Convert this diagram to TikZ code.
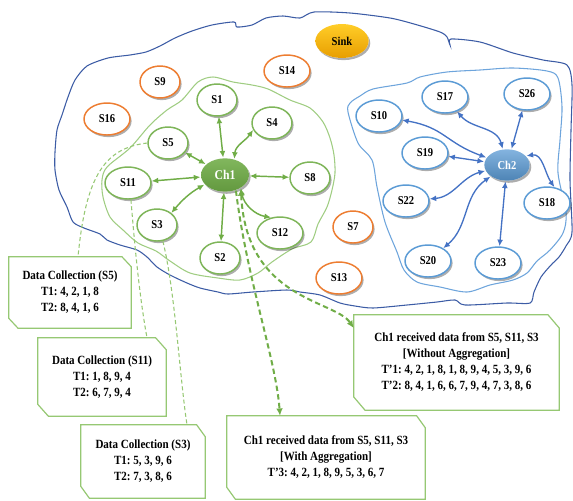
\documentclass[tikz,border=0pt]{standalone}
\usepackage{fontspec}
\setmainfont{Liberation Serif}[FakeStretch=0.88]
\usetikzlibrary{arrows.meta,shapes.geometric,shadows}

\definecolor{gnode}{RGB}{112,173,71}
\definecolor{gline}{RGB}{160,205,130}
\definecolor{gbox}{RGB}{150,200,115}
\definecolor{onode}{RGB}{237,125,49}
\definecolor{bnode}{RGB}{91,155,213}
\definecolor{bline}{RGB}{68,114,196}
\definecolor{bzone}{RGB}{110,165,220}
\definecolor{outerc}{RGB}{60,92,165}

\pgfdeclarelayer{back}
\pgfdeclarelayer{frames}
\pgfsetlayers{back,frames,main}

% chamfered frame (top-right and bottom-left corners cut) around a text node
\newcommand\snipframe[3]{%
  \begin{pgfonlayer}{frames}
  \draw[boxline] (#1.north west) -- ([xshift=-#2]#1.north east)
    -- ([yshift=-#3]#1.north east) -- (#1.south east)
    -- ([xshift=#2]#1.south west) -- ([yshift=#3]#1.south west) -- cycle;
  \end{pgfonlayer}}

% centred lines of a data box
\newenvironment{boxlines}{\begin{tabular}{@{}c@{}}}{\end{tabular}}

\tikzset{
  every node/.style={inner sep=0pt},
  ell/.style={ellipse, draw, line width=1.1pt, fill=white,
    minimum width=30pt, minimum height=24pt,
    font=\bfseries\fontsize{9}{10}\selectfont,
    drop shadow={shadow xshift=1.2pt, shadow yshift=-1.6pt, opacity=0.32, fill=black}},
  wideell/.style={minimum width=34.5pt},
  grnode/.style={ell, draw=gnode!90},
  ornode/.style={ell, draw=onode},
  blnode/.style={ell, draw=bnode, wideell},
  headnode/.style={ell, draw=none, text=white, minimum width=36pt, minimum height=25pt},
  outerline/.style={draw=outerc, line width=0.8pt},
  greenzone/.style={draw=gline, line width=0.8pt},
  bluezone/.style={draw=bzone, line width=0.8pt},
  >={Latex[length=5pt,width=4.4pt]},
  garr/.style={draw=gnode, line width=1.1pt, <->},
  barr/.style={draw=bline, line width=1pt, <->},
  tdash/.style={draw=gbox, line width=0.8pt, dash pattern=on 3pt off 2pt},
  kdash/.style={draw=gnode, line width=1.5pt, dash pattern=on 4pt off 2.5pt,
    >={Latex[length=5.5pt,width=5pt]}},
  boxline/.style={draw=gbox, line width=0.9pt, fill=white},
  textbox/.style={font=\frenchspacing\bfseries\fontsize{9.4}{12}\selectfont}
}

\begin{document}
\begin{tikzpicture}[x=0.75pt,y=-0.75pt]
\useasboundingbox (0,0) rectangle (573,500);

% ---------- field boundary and the two cluster zones ----------
\begin{pgfonlayer}{back}
\draw[outerline] plot[smooth cycle, tension=0.45] coordinates {
  (55,152) (57,130) (62,115) (68,97) (75,80) (87,66) (108,58) (130,55)
  (146,52) (160,46) (175,38) (192,31) (212,25) (234,22) (237,27) (252,25)
  (266,18) (283,16) (300,18) (314,12) (350,13) (390,18) (414,24) (440,32)
  (447,37) (450,45) (451,39) (480,42) (513,53) (543,60) (567,65) (572,85)
  (571,130) (570,180) (572,232) (566,246) (559,257) (551,265) (541,277)
  (534,292) (530,303) (507,303) (465,305) (455,300) (437,302) (407,305)
  (373,308) (355,306) (340,303) (320,295) (300,292) (287,290) (253,292)
  (228,294) (218,292) (200,288) (187,283) (170,275) (157,267) (147,257)
  (137,250) (120,245) (107,240) (100,234) (84,228) (73,222) (67,207)
  (59,190) (55,170)};
\draw[greenzone] plot[smooth cycle, tension=0.5] coordinates {
  (213,77) (233,82) (252,85) (268,89) (290,100) (310,108) (323,122)
  (330,138) (334,155) (335,173) (332,190) (327,207) (318,224) (311,242)
  (292,249) (272,262) (258,273) (240,280) (218,278) (190,273) (170,261)
  (156,251) (138,243) (123,230) (110,217) (103,197) (102,180) (107,167)
  (130,148) (150,125) (167,110) (182,100) (198,82)};
\draw[bluezone] plot[smooth cycle, tension=0.5] coordinates {
  (350,103) (360,96) (373,89) (407,83) (420,77) (447,72) (480,70)
  (513,68) (547,71) (558,78) (562,107) (560,140) (558,173) (566,213)
  (563,233) (550,250) (537,261) (527,273) (513,280) (490,285) (467,292)
  (440,287) (417,282) (404,270) (397,252) (385,222) (377,187) (372,160)
  (358,143) (348,112)};
\end{pgfonlayer}

% ---------- sink ----------
\node[headnode, text=black, minimum width=40pt, minimum height=25.5pt,
  top color={rgb,255:red,255;green,205;blue,40},
  bottom color={rgb,255:red,232;green,158;blue,0}] (sink) at (342,41) {Sink};

% ---------- unclustered sensors ----------
\node[ornode] (s9) at (160,82) {S9};
\node[ornode, wideell] (s14) at (287,71) {S14};
\node[ornode, wideell] (s16) at (107,119) {S16};
\node[ornode] (s7) at (353,227) {S7};
\node[ornode, wideell] (s13) at (339,278) {S13};

% ---------- cluster 1 ----------
\node[headnode, font=\bfseries\fontsize{10}{11}\selectfont,
  top color=gnode!88!white, bottom color=gnode!88!black] (ch1) at (225,175) {Ch1};
\node[grnode] (s1) at (217,100) {S1};
\node[grnode] (s4) at (272,123) {S4};
\node[grnode] (s5) at (168,143) {S5};
\node[grnode, wideell] (s11) at (128,183) {S11};
\node[grnode] (s8) at (310,178) {S8};
\node[grnode] (s3) at (157,225) {S3};
\node[grnode, wideell] (s12) at (280,233) {S12};
\node[grnode] (s2) at (220,258) {S2};

% ---------- cluster 2 ----------
\node[headnode, minimum width=34pt, minimum height=23.5pt,
  top color=bnode!75!white, bottom color=bnode!85!black] (ch2) at (507,165) {Ch2};
\node[blnode] (s17) at (445,97) {S17};
\node[blnode] (s26) at (527,94) {S26};
\node[blnode] (s10) at (379,116) {S10};
\node[blnode] (s19) at (425,153) {S19};
\node[blnode] (s22) at (406,201) {S22};
\node[blnode] (s18) at (547,203) {S18};
\node[blnode] (s20) at (428,261) {S20};
\node[blnode] (s23) at (498,263) {S23};

% ---------- links inside cluster 1 ----------
\draw[garr] (ch1) -- (s1);
\draw[garr] (ch1.60) to[out=85,in=-125] (s4.200);
\draw[garr] (ch1) -- (s5);
\draw[garr] (ch1) -- (s11);
\draw[garr] (ch1) -- (s8);
\draw[garr] (ch1.205) to[out=210,in=50] (s3.40);
\draw[garr] (ch1.-40) to[out=-80,in=170] (s12.120);
\draw[garr] (ch1) -- (s2);

% ---------- links inside cluster 2 ----------
\draw[barr] (ch2) to[out=160,in=-10,looseness=1.2] (s10);
\draw[barr] (ch2) to[out=105,in=-50] (s17);
\draw[barr] (ch2) -- (s26);
\draw[barr] (ch2) -- (s19);
\draw[barr] (ch2) to[out=195,in=5] (s22);
\draw[barr] (ch2) to[out=215,in=40] (s20);
\draw[barr] (ch2) -- (s23);
\draw[barr] (ch2.25) to[out=10,in=125] (s18.65);

% ---------- data boxes ----------
\node[textbox, minimum width=91.5pt, minimum height=53.25pt] (b1) at (70,292.5)
  {\begin{boxlines}Data Collection (S5)\\T1: 4, 2, 1, 8\\T2: 8, 4, 1, 6\end{boxlines}};
\snipframe{b1}{7pt}{7.5pt}
\node[textbox, minimum width=96pt, minimum height=58.5pt] (b2) at (102,377)
  {\begin{boxlines}Data Collection (S11)\\T1: 1, 8, 9, 4\\T2: 6, 7, 9, 4\end{boxlines}};
\snipframe{b2}{8pt}{9pt}
\node[textbox, minimum width=93pt, minimum height=54.75pt] (b3) at (143,461.5)
  {\begin{boxlines}Data Collection (S3)\\T1: 5, 3, 9, 6\\T2: 7, 3, 8, 6\end{boxlines}};
\snipframe{b3}{6.5pt}{9pt}
\node[textbox, minimum width=153.75pt, minimum height=71.25pt] (b4) at (456.5,362.5)
  {\begin{boxlines}Ch1 received data from S5, S11, S3\\{[}Without Aggregation{]}\\T’1: 4, 2, 1, 8, 1, 8, 9, 4, 5, 3, 9, 6\\T’2: 8, 4, 1, 6, 6, 7, 9, 4, 7, 3, 8, 6\end{boxlines}};
\snipframe{b4}{8.5pt}{10pt}
\node[textbox, minimum width=148.5pt, minimum height=62.25pt] (b5) at (326,457.5)
  {\begin{boxlines}Ch1 received data from S5, S11, S3\\{[}With Aggregation{]}\\T’3: 4, 2, 1, 8, 9, 5, 3, 6, 7\end{boxlines}};
\snipframe{b5}{6.5pt}{9pt}

% ---------- collection traces from members to their boxes ----------
\draw[tdash] (s5.west) .. controls (105,148) and (86,175) .. ([xshift=6pt]b1.north);
\draw[tdash] (s11.-80) .. controls (135,250) and (140,300) .. ([xshift=33.75pt]b2.north);
\draw[tdash] (s3.-70) .. controls (175,290) and (180,380) .. ([xshift=33pt]b3.north);

% ---------- aggregation paths from the cluster head ----------
\draw[kdash, ->] (ch1.-55) .. controls (247,280) and (276,360) .. ([xshift=-34.5pt]b5.north);
\draw[kdash, <->] (ch1.-40) .. controls (246,300) and (335,300) .. ([yshift=-10pt]b4.north west);

\end{tikzpicture}
\end{document}
